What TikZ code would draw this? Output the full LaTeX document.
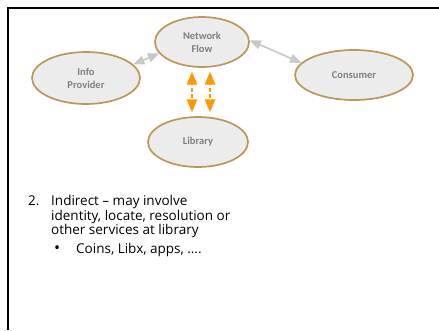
\documentclass[tikz,border=0pt]{standalone}
\usepackage{fontspec}
\setmainfont{Open Sans}
\newfontfamily\labelfont{Carlito}
\usepackage{tikz}
\usetikzlibrary{arrows,shapes.geometric,positioning}

\definecolor{rimbrown}{RGB}{190,150,88}
\definecolor{bubblegray}{RGB}{236,236,236}
\definecolor{textgray}{RGB}{128,128,128}
\definecolor{linkgray}{RGB}{200,200,200}
\definecolor{liborange}{RGB}{255,153,0}

\begin{document}
\begin{tikzpicture}
	[x=1pt,y=-1pt,>=triangle 45,
		bubble/.style={ellipse,draw=rimbrown,line width=1.7pt,fill=bubblegray,inner sep=0pt,
			align=center,font=\labelfont\bfseries\fontsize{10.5}{13}\selectfont,text=textgray},
		link/.style={<->,draw=linkgray,line width=1.6pt},
		liblink/.style={<->,draw=liborange,line width=2pt,dashed,dash pattern=on 4pt off 2.5pt,shorten >=4pt,shorten <=4pt},
		body/.style={anchor=base west,inner sep=0pt,font=\fontsize{13.5}{15}\selectfont}]

	\useasboundingbox (0,0) rectangle (439,330);
	\draw[line width=1.5pt] (8,330) -- (8,8) -- (439,8);

	\node[bubble,minimum width=94pt,minimum height=50pt]  (net)  at (202,42)  {Network\\Flow};
	\node[bubble,minimum width=108pt,minimum height=52pt] (info) at (86,78)   {Info\\Provider};
	\node[bubble,minimum width=118pt,minimum height=50pt] (cons) at (354,75)  {Consumer};
	\node[bubble,minimum width=100pt,minimum height=50pt] (lib)  at (198,142) {Library};

	\draw[link] (info.16) -- (net.195);
	\draw[link] (net.2) -- (cons.167);

	\draw[liblink] ([xshift=-10pt]net.south) -- ([xshift=-6pt]lib.north);
	\draw[liblink] ([xshift=8pt]net.south) -- ([xshift=12pt]lib.north);

	% numbered item
	\node[body] (num)   at (28,205)  {2.};
	\node[body] (line1) at (51,205)  {Indirect -- may involve};
	\node[body] (line2) at (51,220)  {identity, locate, resolution or};
	\node[body] (line3) at (51,234)  {other services at library};
	\node[body] (dot)   at (54,253)  {\fontsize{16}{15}\selectfont•};
	\node[body] (line4) at (76,253)  {Coins, Libx, apps, \dots.};

\end{tikzpicture}
\end{document}
